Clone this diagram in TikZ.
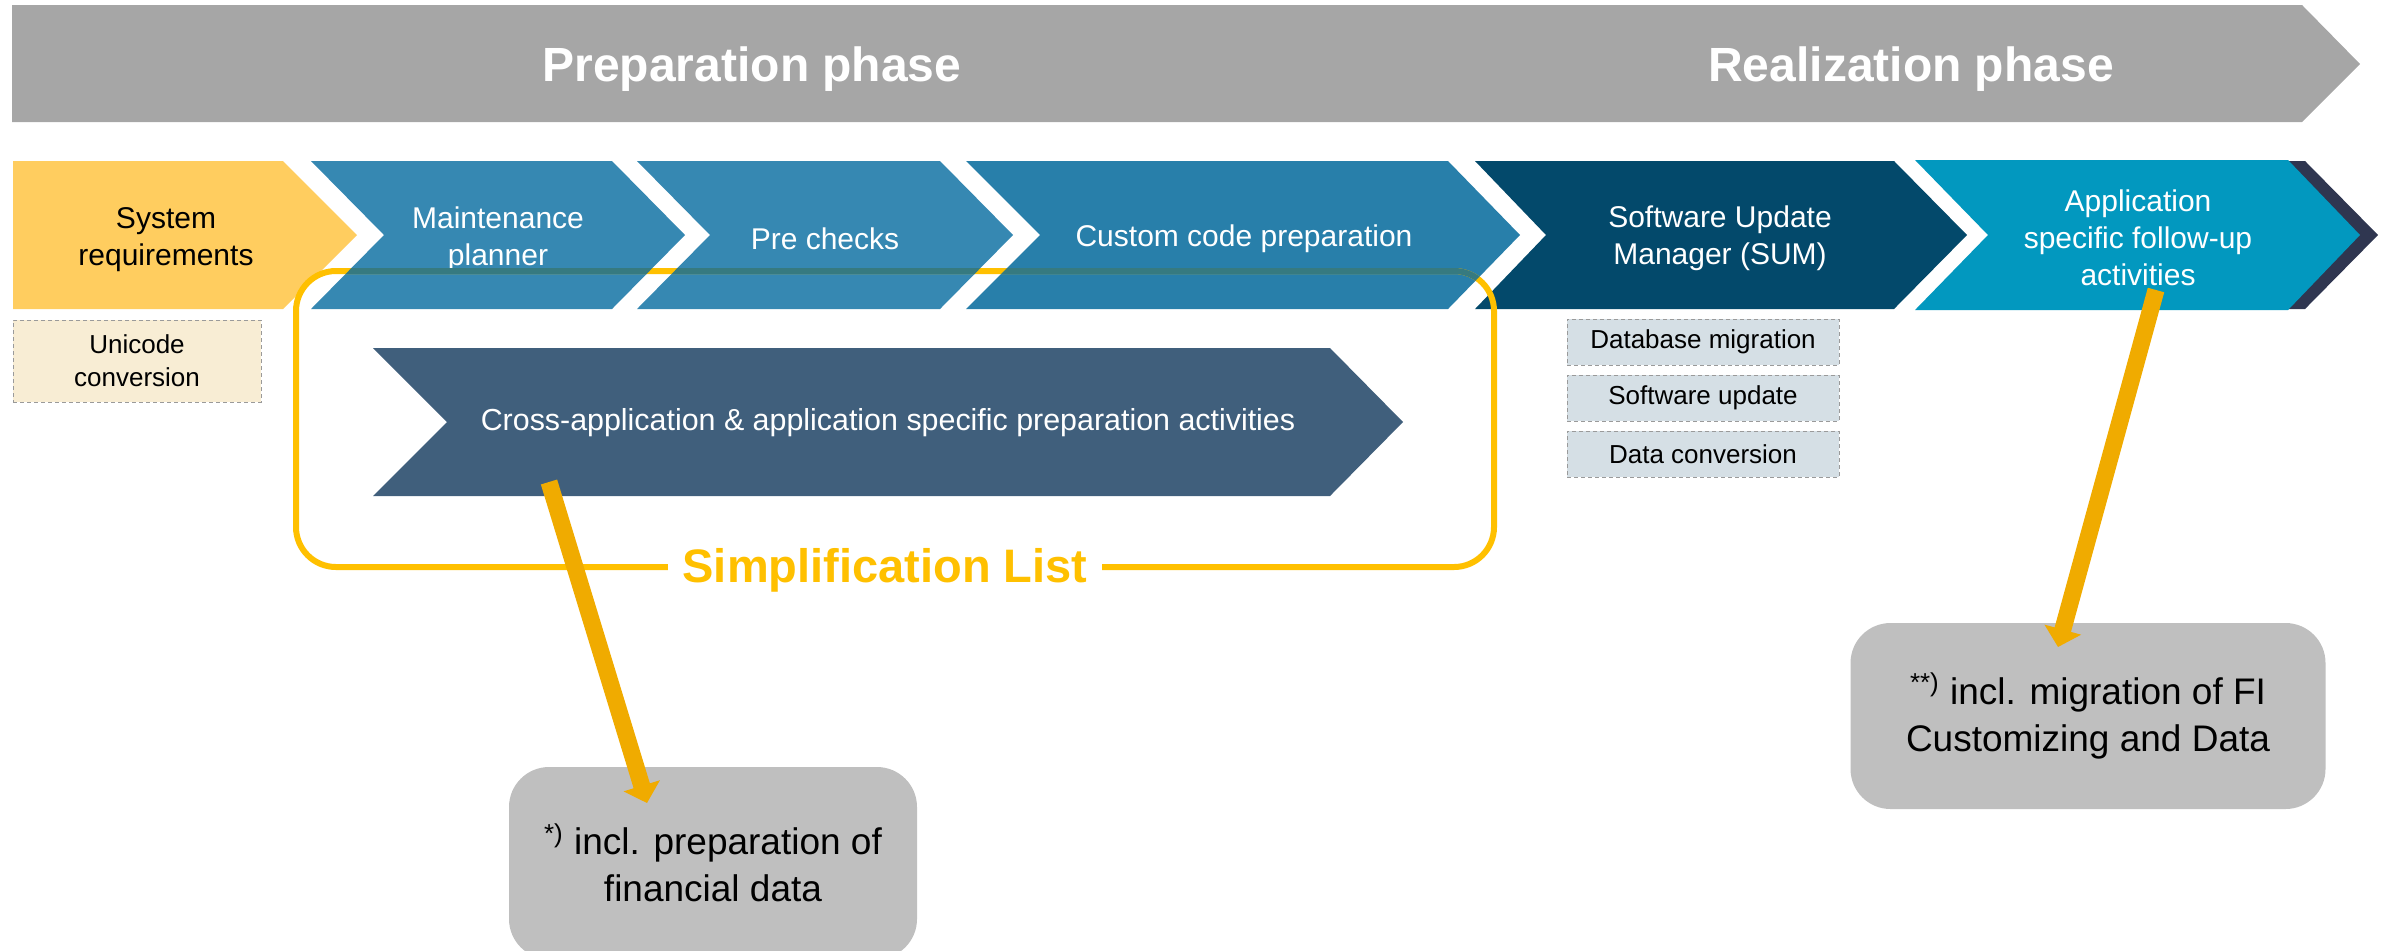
\documentclass[tikz,border=0pt]{standalone}
\usepackage{fontspec}
\setmainfont{Liberation Sans}
\usetikzlibrary{arrows.meta,positioning}

\definecolor{bandgray}{HTML}{A6A6A6}
\definecolor{sysyellow}{HTML}{FFCD5F}
\definecolor{maintblue}{HTML}{3688B2}
\definecolor{customblue}{HTML}{287FAA}
\definecolor{sumblue}{HTML}{03496B}
\definecolor{appblue}{HTML}{0298BF}
\definecolor{appedge}{HTML}{2F3650}
\definecolor{crossblue}{HTML}{405F7C}
\definecolor{simpyellow}{HTML}{FFC000}
\definecolor{overteal}{HTML}{367A80}
\definecolor{arrowgold}{HTML}{F0AB00}
\definecolor{notegray}{HTML}{BFBFBF}
\definecolor{unicream}{HTML}{F8EDD4}
\definecolor{sumgray}{HTML}{D5DFE5}
\definecolor{dashgray}{HTML}{9A9A9A}

\tikzset{
  phasetext/.style={text=white, font=\bfseries\fontsize{24}{28}\selectfont},
  steptext/.style={text=white, align=center, font=\fontsize{15}{18.5}\selectfont},
  subbox/.style={draw=dashgray, dash pattern=on 2pt off 1.5pt, line width=0.5pt,
    align=center, inner sep=0pt, font=\fontsize{13}{16.5}\selectfont},
  simpline/.style={line width=3pt, rounded corners=20pt},
  notebox/.style={fill=notegray, rounded corners=20pt, align=center, inner sep=0pt,
    font=\fontsize{18.5}{23.5}\selectfont},
  callout/.style={draw=arrowgold, line width=8.5pt, -{Triangle[width=18.5pt,length=9pt]}},
}

\begin{document}
\begin{tikzpicture}[x=0.5pt,y=-0.5pt]

\useasboundingbox (0,0) rectangle (2392,950);

% phase band
\fill [bandgray] (12,5) -- (2302,5) -- (2360,64) -- (2302,122) -- (12,122) -- cycle;
\node [phasetext] (prepphase) at (752,69) {Preparation phase};
\node [phasetext] (realphase) at (1911,69) {Realization phase};

% steps
\fill [sysyellow] (13,161) -- (283,161) -- (357,235) -- (283,309) -- (13,309) -- cycle;
\fill [maintblue] (311,161) -- (612,161) -- (685,235) -- (612,309) -- (311,309) -- (384,235) -- cycle;
\fill [maintblue] (637,161) -- (940,161) -- (1013,235) -- (940,309) -- (637,309) -- (710,235) -- cycle;
\fill [customblue] (966,161) -- (1448,161) -- (1520,235) -- (1448,309) -- (966,309) -- (1040,235) -- cycle;
\fill [sumblue] (1475,161) -- (1894,161) -- (1967,235) -- (1894,309) -- (1475,309) -- (1546,235) -- cycle;
\fill [appedge] (1932,161) -- (2305,161) -- (2378,235) -- (2305,309) -- (1932,309) -- (2005,235) -- cycle;
\fill [appblue] (1915,160) -- (2288,160) -- (2360,235) -- (2288,310) -- (1915,310) -- (1988,235) -- cycle;

\node [steptext, text=black] (sysreq) at (166,240) {System\\requirements};
\node [steptext] (maint) at (498,239) {Maintenance\\planner};
\node [steptext] (prechk) at (825,239) {Pre checks};
\node [steptext] (custom) at (1244,239) {Custom code preparation};
\node [steptext] (sum) at (1720,238) {Software Update\\Manager (SUM)};
\node [steptext] (appfollow) at (2138,238) {Application\\specific follow-up\\activities};

\node [subbox, fill=unicream, minimum width=124pt, minimum height=41pt] (unicode) at (137,361) {Unicode\\conversion};

\node [subbox, fill=sumgray, minimum width=136pt, minimum height=23pt] (dbmig) at (1703,342) {Database migration};
\node [subbox, fill=sumgray, minimum width=136pt, minimum height=23pt, below=4.5pt of dbmig] (swupd) {Software update};
\node [subbox, fill=sumgray, minimum width=136pt, minimum height=23pt, below=4.5pt of swupd] (dataconv) {Data conversion};

% simplification list
\fill [crossblue] (373,348) -- (1330,348) -- (1403,422) -- (1330,496) -- (373,496) -- (447,422) -- cycle;
\node [steptext, font=\fontsize{15.2}{18.5}\selectfont] (crossapp) at (888,423) {Cross-application \& application specific preparation activities};

\draw [simpline, simpyellow] (296,271) rectangle (1494,567);
\begin{scope}
\clip (311,161) -- (612,161) -- (685,235) -- (612,309) -- (311,309) -- (384,235) -- cycle
      (637,161) -- (940,161) -- (1013,235) -- (940,309) -- (637,309) -- (710,235) -- cycle
      (966,161) -- (1448,161) -- (1520,235) -- (1448,309) -- (966,309) -- (1040,235) -- cycle;
\draw [simpline, overteal] (296,271) rectangle (1494,567);
\end{scope}
\node [fill=white, text=simpyellow, font=\bfseries\fontsize{23.5}{28}\selectfont, inner xsep=7.5pt, inner ysep=2pt] (simplist) at (885,570) {Simplification List};

% notes
\node [notebox, minimum width=204pt, minimum height=96pt] (prepnote) at (713,863) {\textsuperscript{*)} incl. preparation of\\financial data};
\node [notebox, minimum width=237.5pt, minimum height=93pt] (fimignote) at (2088,716) {\textsuperscript{**)} incl. migration of FI\\Customizing and Data};

\coordinate (crossfoot) at (549,482);
\coordinate (prepnotetip) at (647,803);
\coordinate (appfoot) at (2156,290);
\coordinate (fimignotetip) at (2058,647);

\draw [callout] (crossfoot) -- (prepnotetip);
\draw [callout] (appfoot) -- (fimignotetip);

\end{tikzpicture}
\end{document}
